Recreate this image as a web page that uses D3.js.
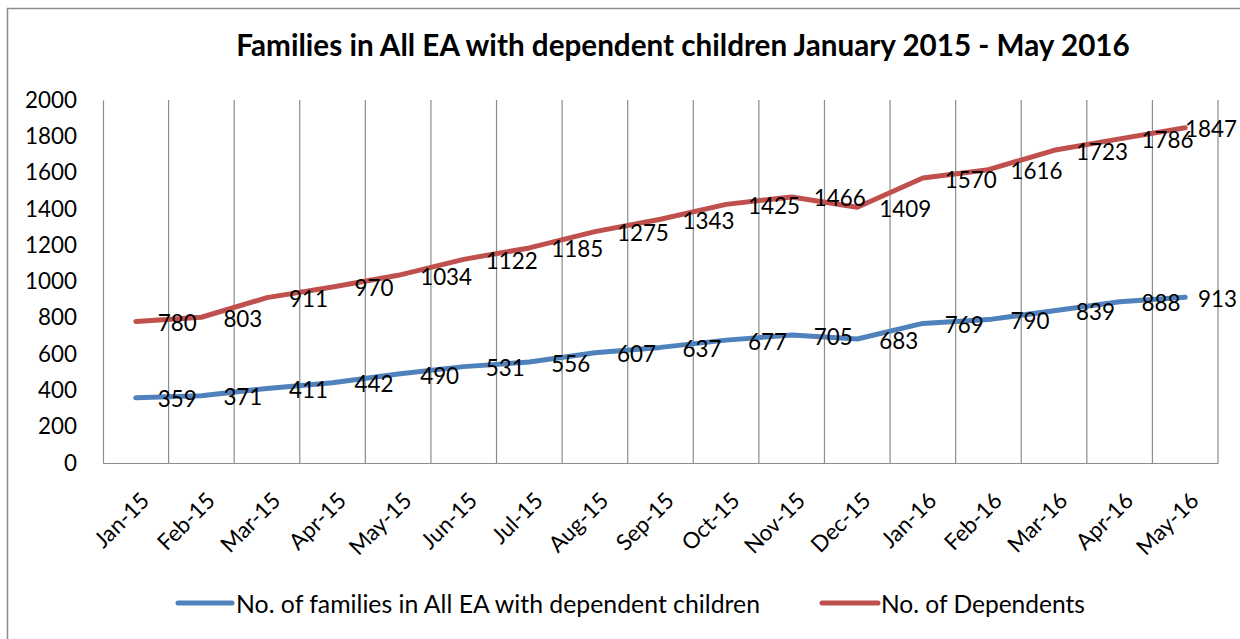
<!DOCTYPE html>
<html><head><meta charset="utf-8">
<script src="https://cdn.jsdelivr.net/npm/d3@7"></script>
<style>
html,body{margin:0;padding:0;background:#fff;}
svg{display:block;font-family:Lato,"Open Sans",sans-serif;}
</style></head>
<body>
<svg id="c" width="1240" height="639"></svg>
<script>
const categories = ["Jan-15","Feb-15","Mar-15","Apr-15","May-15","Jun-15","Jul-15","Aug-15","Sep-15","Oct-15","Nov-15","Dec-15","Jan-16","Feb-16","Mar-16","Apr-16","May-16"];
const families = [359,371,411,442,490,531,556,607,637,677,705,683,769,790,839,888,913];
const dependents = [780,803,911,970,1034,1122,1185,1275,1343,1425,1466,1409,1570,1616,1723,1786,1847];
const yTicks = [0,200,400,600,800,1000,1200,1400,1600,1800,2000];
const seriesNames = ["No. of families in All EA with dependent children","No. of Dependents"];
const titleText = "Families in All EA with dependent children January 2015 - May 2016";

(function(){
const svg = d3.select("#c");
const pL = 103, pR = 1218, pT = 100, pB = 463;
const FS = 22.4;
const x = d3.scaleBand().domain(categories).range([pL, pR]);
const y = d3.scaleLinear().domain([0, 2000]).range([pB, pT]);
const cx = d => x(d) + x.bandwidth()/2;

svg.append("rect").attr("x",7.5).attr("y",8.5).attr("width",1240).attr("height",640)
  .attr("fill","none").attr("stroke","#8c8c8c").attr("stroke-width",1.5);

function fit(sel, target){
  const w = sel.node().getComputedTextLength();
  const fs = parseFloat(sel.attr("font-size"));
  sel.attr("font-size", fs*target/w);
}

const t = svg.append("text").attr("x",683).attr("y",56).attr("text-anchor","middle")
  .attr("font-weight","bold").attr("font-size",24).attr("fill","#000").text(titleText);
fit(t, 894);

const bounds = categories.map(c => x(c)).concat([pR]);
svg.append("g").selectAll("line").data(bounds.slice(1)).join("line")
  .attr("x1",d=>d).attr("x2",d=>d).attr("y1",pT).attr("y2",pB)
  .attr("stroke","#8c8c8c").attr("stroke-width",1.2);

const yAxis = d3.axisLeft(y).tickValues(yTicks).tickSize(0).tickPadding(26).tickFormat(d3.format("d"));
const gy = svg.append("g").attr("transform",`translate(${pL},0)`).call(yAxis);
gy.select(".domain").attr("stroke","#8c8c8c").attr("stroke-width",1.2);
gy.selectAll("text").attr("font-size",FS).attr("font-family","Lato").attr("fill","#000");

const xAxis = d3.axisBottom(x).tickSize(0).tickFormat("");
const gx = svg.append("g").attr("transform",`translate(0,${pB})`).call(xAxis);
gx.select(".domain").attr("stroke","#8c8c8c").attr("stroke-width",1.2);
svg.append("g").selectAll("text").data(categories).join("text")
  .attr("transform",d=>`translate(${cx(d)+9},${pB+33}) rotate(-45)`)
  .attr("text-anchor","end").attr("dominant-baseline","central")
  .attr("font-size",FS).attr("fill","#000").text(d=>d);

const colors = ["#4f81bd","#c0504d"];
const data = [families, dependents];
const line = d3.line().x((d,i)=>cx(categories[i])).y(d=>y(d));
data.forEach((s,k)=>{
  svg.append("path").datum(s).attr("d",line).attr("fill","none")
    .attr("stroke",colors[k]).attr("stroke-width",5).attr("stroke-linejoin","round").attr("stroke-linecap","round");
});
data.forEach((s,k)=>{
  svg.append("g").selectAll("text").data(s).join("text")
    .attr("x",(d,i)=>cx(categories[i])+22).attr("y",d=>y(d)+1)
    .attr("dominant-baseline","central").attr("font-size",FS).attr("fill","#000").text(d=>d)
    .each(function(){
      const w = this.getComputedTextLength();
      const xx = +this.getAttribute("x");
      if (xx + w > 1237) this.setAttribute("x", 1237 - w);
    });
});

const leg = [{x1:178,x2:232,tx:236,w:524},{x1:822,x2:878,tx:881,w:204}];
leg.forEach((l,k)=>{
  svg.append("line").attr("x1",l.x1).attr("x2",l.x2).attr("y1",603).attr("y2",603)
    .attr("stroke",colors[k]).attr("stroke-width",5).attr("stroke-linecap","round");
  const tt = svg.append("text").attr("x",l.tx).attr("y",603).attr("dominant-baseline","central")
    .attr("font-size",FS).attr("fill","#000").text(seriesNames[k]);
  fit(tt, l.w);
});
})();
</script>
</body></html>
